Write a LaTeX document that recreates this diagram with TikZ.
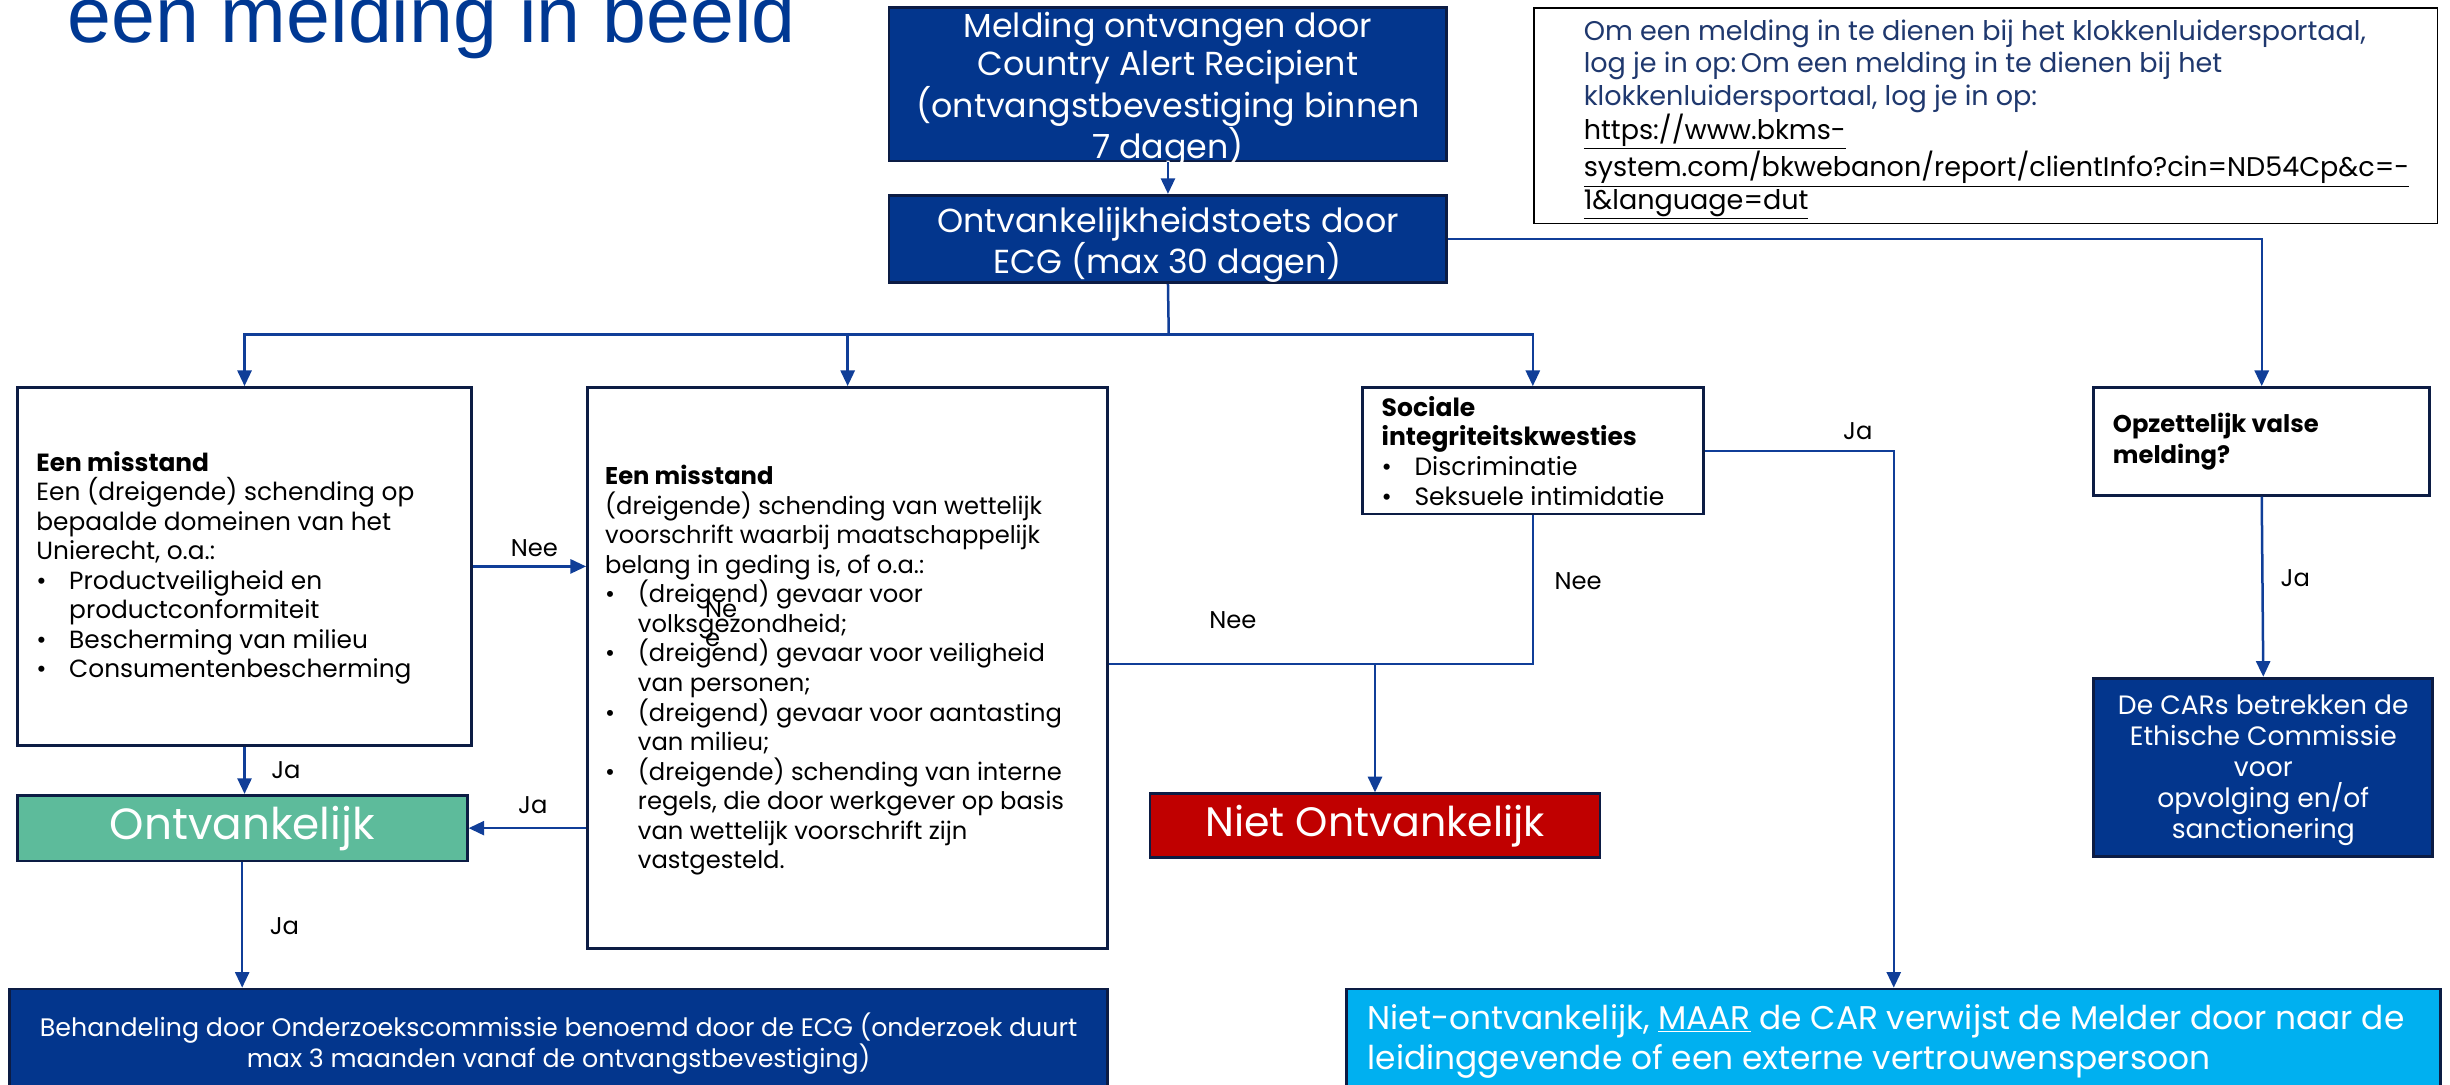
\documentclass[tikz,border=0pt]{standalone}
\usepackage{fontspec}
\setmainfont{Poppins}
\newfontfamily\titlefont{Liberation Sans}
\usetikzlibrary{arrows.meta,calc}
\definecolor{dblue}{RGB}{3,54,141}
\definecolor{navy}{RGB}{12,28,68}
\definecolor{lblue}{RGB}{16,62,152}
\definecolor{tgreen}{RGB}{93,187,155}
\definecolor{tred}{RGB}{192,0,0}
\definecolor{cyanb}{RGB}{0,176,240}
\definecolor{titleblue}{RGB}{0,56,147}
\definecolor{urlblue}{RGB}{31,56,110}
\newcommand\mybul{\makebox[21pt][l]{•}}
\newcommand\myind{\hspace*{21pt}}
\begin{document}
\begin{tikzpicture}[x=1pt,y=-1pt,
  frame/.style={draw=navy,line width=1.8pt,fill=white,inner sep=0pt},
  dark/.style={draw=navy,line width=1.8pt,fill=dblue,text=white,inner sep=0pt,align=center},
  wtext/.style={inner sep=0pt,align=center,text=white},
  conn/.style={draw=lblue,line width=1.6pt,-{Triangle[length=10pt,width=9pt]}},
  plainconn/.style={draw=lblue,line width=1.6pt},
  lightconn/.style={draw=lblue,line width=1pt},
  lbl/.style={inner sep=0pt,font=\fontsize{15.5}{19}\selectfont},
  body/.style={inner sep=0pt,align=left,anchor=west,font=\fontsize{15.5}{18.9}\selectfont},
]
\useasboundingbox (0,0) rectangle (1568,694);

% title
\node[anchor=base west,inner sep=0pt,text=titleblue,font=\titlefont\fontsize{50.5}{60}\selectfont] (title) at (43,27) {een melding in beeld};

% top boxes
\node[dark,minimum width=357pt,minimum height=98pt] (A) at (747.5,54) {};
\node[wtext,font=\fontsize{21.3}{24.7}\selectfont] (At) at ($(A.center)+(0,3.5)$)
  {Melding ontvangen door\\Country Alert Recipient\\(ontvangstbevestiging binnen\\7 dagen)};
\node[dark,minimum width=357pt,minimum height=56pt] (B) at (747.5,153) {};
\node[wtext,font=\fontsize{21.3}{25}\selectfont] (Bt) at ($(B.center)+(0,3.5)$)
  {Ontvankelijkheidstoets door\\ECG (max 30 dagen)};

% url box
\node[draw=black,line width=1.2pt,fill=white,minimum width=578pt,minimum height=138pt,inner sep=0pt] (U) at (1271,74) {};
\node[inner sep=0pt,align=left,anchor=west,text=urlblue,font=\fontsize{17.3}{20.8}\selectfont] (Ut) at ($(U.west)+(32,2.5)$)
  {Om een melding in te dienen bij het klokkenluidersportaal,\\
   log je in op:\,Om een melding in te dienen bij het\\
   klokkenluidersportaal, log je in op:\\
   \textcolor{black}{\underline{https://www.bkms-}}\\
   \textcolor{black}{\underline{system.com/bkwebanon/report/clientInfo?cin=ND54Cp\&c=-}}\\
   \textcolor{black}{\underline{1\&language=dut}}};

% middle white boxes
\node[frame,minimum width=291pt,minimum height=229pt] (C) at (156.5,362.5) {};
\node[body,font=\fontsize{15.9}{18.9}\selectfont] (Ct) at ($(C.west)+(13,1)$)
  {\textbf{Een misstand}\\
   Een (dreigende) schending op\\
   bepaalde domeinen van het\\
   Unierecht, o.a.:\\
   \mybul Productveiligheid en\\
   \myind productconformiteit\\
   \mybul Bescherming van milieu\\
   \mybul Consumentenbescherming};

\node[frame,minimum width=333pt,minimum height=359pt] (D) at (542.5,427.5) {};
\node[body] (Dt) at ($(D.west)+(12,1.5)$)
  {\textbf{Een misstand}\\
   (dreigende) schending van wettelijk\\
   voorschrift waarbij maatschappelijk\\
   belang in geding is, of o.a.:\\
   \mybul (dreigend) gevaar voor\\
   \myind volksgezondheid;\\
   \mybul (dreigend) gevaar voor veiligheid\\
   \myind van personen;\\
   \mybul (dreigend) gevaar voor aantasting\\
   \myind van milieu;\\
   \mybul (dreigende) schending van interne\\
   \myind regels, die door werkgever op basis\\
   \myind van wettelijk voorschrift zijn\\
   \myind vastgesteld.};

\node[frame,minimum width=218pt,minimum height=81pt] (E) at (981,288.5) {};
\node[body,font=\fontsize{16}{19}\selectfont] (Et) at ([xshift=13pt]E.west)
  {\textbf{Sociale}\\
   \textbf{integriteitskwesties}\\
   \mybul Discriminatie\\
   \mybul Seksuele intimidatie};

\node[frame,minimum width=215pt,minimum height=69pt] (F) at (1447.5,282.5) {};
\node[body,font=\bfseries\fontsize{15.5}{20}\selectfont] (Ft) at ([xshift=13pt]F.west)
  {Opzettelijk valse\\melding?};

% result boxes
\node[draw=navy,line width=1.8pt,fill=tgreen,text=white,inner sep=0pt,minimum width=288pt,minimum height=42pt,font=\fontsize{28}{30}\selectfont] (G) at (155,530) {Ontvankelijk};
\node[draw=navy,line width=1.8pt,fill=tred,text=white,inner sep=0pt,minimum width=288pt,minimum height=41pt,font=\fontsize{26.3}{28}\selectfont] (H) at (880,528.5) {Niet Ontvankelijk};
\node[dark,minimum width=217pt,minimum height=114pt] (I) at (1448.5,491) {};
\node[wtext,font=\fontsize{17}{19.75}\selectfont] (It) at ($(I.center)+(0,2)$)
  {De CARs betrekken de\\Ethische Commissie\\voor\\opvolging en/of\\sanctionering};
\node[dark,minimum width=703pt,minimum height=70pt,font=\fontsize{16.2}{20}\selectfont] (J) at (357.5,668)
  {Behandeling door Onderzoekscommissie benoemd door de ECG (onderzoek duurt\\max 3 maanden vanaf de ontvangstbevestiging)};
\node[draw=navy,line width=1.8pt,fill=cyanb,inner sep=0pt,minimum width=700pt,minimum height=70pt] (K) at (1212,668) {};
\node[inner sep=0pt,align=left,anchor=west,text=white,font=\fontsize{21}{26}\selectfont] (Kt) at ($(K.west)+(14,-1.5)$)
  {Niet-ontvankelijk, \underline{MAAR} de CAR verwijst de Melder door naar de\\leidinggevende of een externe vertrouwenspersoon};

% connectors
\coordinate (split) at (748,214);
\coordinate (merge) at (880,425);
\draw[conn] (A.south) -- (B.north);
\draw[plainconn] (B.south) -- (split);
\draw[conn] (split) -| (C.north);
\draw[conn] (split) -| (D.north);
\draw[conn] (split) -| (E.north);
\draw[conn] (B.east) -| (F.north);
\draw[conn] (C.east) -- (C.east -| D.west);
\draw[conn] (C.south) -- (C.south |- G.north);
\draw[conn] (D.west |- G.east) -- (G.east);
\draw[conn] (G.south) -- (G.south |- J.north);
\draw[lightconn] (D.east |- merge) -- (merge);
\draw[plainconn] (E.south) |- (merge);
\draw[conn] (merge) -- (H.north);
\draw[conn] (E.east) -| (K.north);
\draw[conn] (F.south) -- (I.north);

% labels
\node[lbl] (l1) at (342,351) {Nee};
\node[lbl] (l2) at (183,493) {Ja};
\node[lbl] (l3) at (341,515) {Ja};
\node[lbl] (l4) at (182,593) {Ja};
\node[lbl] (l5) at (789,397) {Nee};
\node[lbl] (l6) at (1010,372) {Nee};
\node[lbl] (l7) at (1189,276) {Ja};
\node[lbl] (l8) at (1469,370) {Ja};
\node[lbl,align=left,anchor=north west] (l9) at (451,384) {Ne\\e};
\end{tikzpicture}
\end{document}
